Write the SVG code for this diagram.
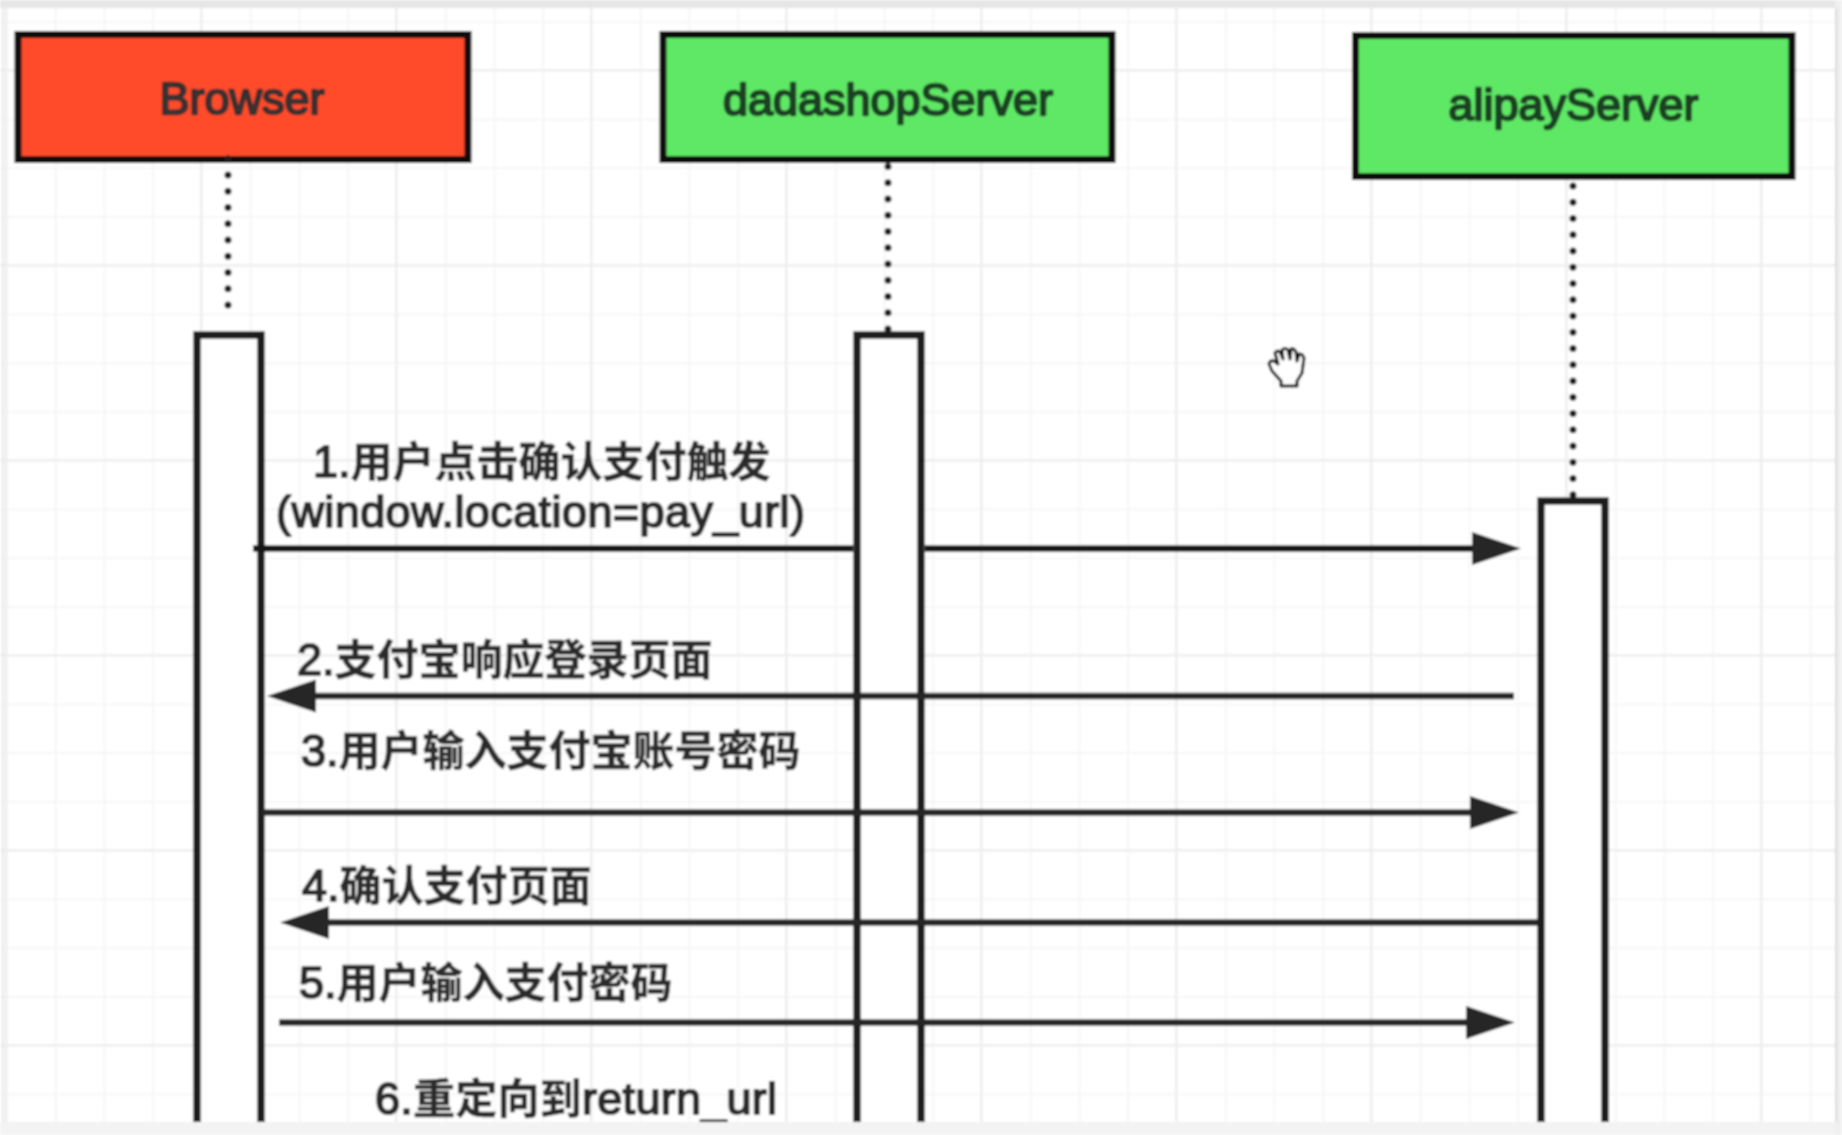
<svg xmlns="http://www.w3.org/2000/svg" width="1842" height="1135" viewBox="0 0 1842 1135">
<style>
.minor{stroke:#f6f6f6;stroke-width:2;fill:none}
.major{stroke:#eeeeee;stroke-width:2.5;fill:none}
.box{stroke:#0c0c0c;stroke-width:7}
.bar{fill:#fff;stroke:#1e1e1e;stroke-width:7.5}
.life{stroke:#1c1c1c;stroke-width:7;stroke-linecap:round;stroke-dasharray:0 16.25;fill:none}
.msg{stroke:#262626;stroke-width:6.5;fill:none}
.head{font-family:"Liberation Sans",Arial,sans-serif;font-size:45px;text-anchor:middle;stroke-width:2.4;stroke-linejoin:round}
.lbl{font-family:"Liberation Sans","Noto Sans CJK SC",sans-serif;font-size:45px;fill:#2c2c2c;stroke:#2c2c2c;stroke-width:2;stroke-linejoin:round}
.cjk{font-family:"Noto Sans CJK SC",sans-serif;font-size:42px;font-weight:700;stroke-width:0.4}
</style>
<defs>
<filter id="soft" filterUnits="userSpaceOnUse" x="0" y="0" width="1842" height="1135"><feGaussianBlur stdDeviation="0.8"/></filter>
<marker id="ar" markerUnits="userSpaceOnUse" markerWidth="50" markerHeight="34" refX="0" refY="17" orient="auto"><path d="M0 0.5L49 17L0 33.5Z" fill="#262626"/></marker>
<pattern id="gmin" patternUnits="userSpaceOnUse" x="6" y="21" width="48.75" height="48.75"><path class="minor" d="M1 0V48.75M0 1H48.75"/></pattern>
<pattern id="gmaj" patternUnits="userSpaceOnUse" x="5" y="69" width="195" height="195"><path class="major" d="M1 0V195M0 1H195"/></pattern>
</defs>
<g filter="url(#soft)">
<g id="background">
<rect width="1842" height="1135" fill="#fff"/>
<rect width="1842" height="1135" fill="url(#gmin)"/>
<rect width="1842" height="1135" fill="url(#gmaj)"/>
</g>
<g id="node-browser">
<rect class="box" x="18" y="34.5" width="450" height="125" fill="#ff4b2b"/>
<text class="head" x="242" y="114" fill="#3a3030" stroke="#3a3030">Browser</text>
</g>
<g id="node-dadashop">
<rect class="box" x="663" y="34.5" width="449" height="125" fill="#5fe865"/>
<text class="head" x="888" y="114.5" fill="#1f4025" stroke="#1f4025">dadashopServer</text>
</g>
<g id="node-alipay">
<rect class="box" x="1355.5" y="35.5" width="436.5" height="141" fill="#5fe865"/>
<text class="head" x="1573.5" y="120" fill="#1f4025" stroke="#1f4025">alipayServer</text>
</g>
<g id="bar-browser"><rect class="bar" x="197" y="335" width="64" height="795"/></g>
<g id="bar-dadashop"><rect class="bar" x="857" y="335" width="64" height="795"/></g>
<g id="bar-alipay"><rect class="bar" x="1541" y="501" width="64" height="629"/></g>
<g id="connectors">
<path class="life" d="M228 158.7V306"/>
<path class="life" d="M888 166.5V330"/>
<path class="life" d="M1573 186V498"/>
<path class="msg" style="stroke:#141414" d="M253 548.5H853M925 548.5H1472" marker-end="url(#ar)"/>
<path class="msg" d="M1514 696H316" marker-end="url(#ar)"/>
<path class="msg" d="M262 812.5H1470" marker-end="url(#ar)"/>
<path class="msg" d="M1538 922.5H329" marker-end="url(#ar)"/>
<path class="msg" d="M279 1022.5H1466" marker-end="url(#ar)"/>
</g>
<g id="labels">
<text class="lbl" x="313" y="477">1.<tspan class="cjk">用户点击确认支付触发</tspan></text>
<text class="lbl" x="276" y="527" textLength="529">(window.location=pay_url)</text>
<text class="lbl" x="297" y="675">2.<tspan class="cjk">支付宝响应登录页面</tspan></text>
<text class="lbl" x="301" y="766">3.<tspan class="cjk">用户输入支付宝账号密码</tspan></text>
<text class="lbl" x="302" y="901">4.<tspan class="cjk">确认支付页面</tspan></text>
<text class="lbl" x="299" y="998">5.<tspan class="cjk">用户输入支付密码</tspan></text>
<text class="lbl" x="375" y="1114" textLength="402">6.<tspan class="cjk">重定向到</tspan>return_url</text>
</g>
<g id="cursor" transform="translate(1260 340)">
<path d="M21 46V41L12 31L9 24Q10 20 14 21L18 24L15 13Q17 10 20 12L23 19L22 10Q25 7 28 10L30 19L31 9Q34 8 36 12L37 21L39 14Q43 14 44 18L42 33L37 41V46Z" fill="#fff" stroke="#111" stroke-width="3" stroke-linejoin="round"/>
</g>
<g id="frame">
<rect x="0" y="0" width="1842" height="8" fill="#e6e6e6"/>
<rect x="0" y="1122" width="1842" height="13" fill="#f3f3f3"/>
<rect x="1835" y="0" width="7" height="1135" fill="#f0f0f0"/>
<rect x="1835" y="8" width="2.5" height="1114" fill="#dedede"/>
<rect x="2" y="8" width="2" height="1114" fill="#e8e8e8"/>
</g>
</g>
</svg>
